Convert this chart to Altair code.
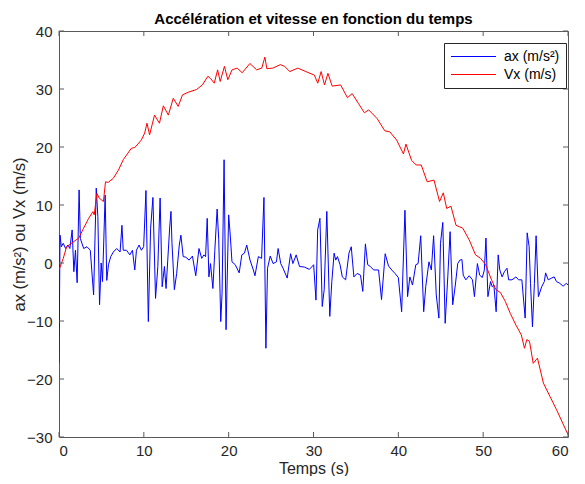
import altair as alt
import pandas as pd

# ---- data ----
ax_t = [0, 0.12, 0.27, 0.5, 0.78, 1.05, 1.28, 1.55, 1.75, 1.94, 2.14, 2.37, 2.52, 2.91, 3.3, 3.69,
        4.08, 4.39, 4.58, 4.78, 4.97, 5.13, 5.44, 5.63, 5.83, 6.1, 6.41, 6.8, 7.2, 7.42, 7.57, 7.96,
        8.35, 8.66, 8.93, 9.13, 9.44, 9.71, 9.98, 10.25, 10.53, 10.8, 11.07, 11.38, 11.65, 11.92,
        12.16, 12.43, 12.62, 12.82, 13.05, 13.2, 13.32, 13.6, 13.87, 14.18, 14.37, 14.64, 14.95,
        15.34, 15.73, 16.12, 16.5, 16.82, 17.09, 17.28, 17.47, 17.67, 17.86, 18.14, 18.37, 18.64,
        18.83, 19.07, 19.22, 19.46, 19.69, 20.0, 20.2, 20.39, 20.78, 21.24, 21.55, 21.86, 22.13,
        22.52, 22.91, 23.1, 23.5, 23.88, 24.16, 24.39, 24.58, 24.9, 25.24, 25.63, 25.83, 26.14,
        26.41, 26.9, 27.3, 27.57, 27.96, 28.35, 28.93, 29.51, 29.9, 30.02, 30.29, 30.49, 30.76,
        31.03, 31.26, 31.57, 31.92, 32.16, 32.43, 32.62, 32.82, 33.13, 33.4, 33.79, 34.18, 34.45,
        34.76, 35.15, 35.54, 35.81, 36.12, 36.39, 36.7, 37.09, 37.67, 38.02, 38.45, 38.84, 39.22,
        39.61, 40.0, 40.39, 40.78, 41.09, 41.36, 41.67, 42.06, 42.33, 42.64, 42.99, 43.23, 43.61,
        43.89, 44.16, 44.47, 44.78, 44.97, 45.24, 45.52, 45.83, 46.1, 46.41, 46.72, 47.0, 47.26,
        47.5, 47.65, 47.96, 48.35, 48.74, 48.97, 49.32, 49.59, 49.9, 50.14, 50.33, 50.56, 50.87,
        51.07, 51.26, 51.53, 51.77, 51.96, 52.23, 52.5, 52.81, 53.0, 53.4, 53.86, 54.17, 54.56,
        54.95, 55.19, 55.42, 55.58, 55.81, 56.04, 56.24, 56.51, 56.9, 57.21, 57.36, 57.67, 58.06,
        58.37, 58.64, 59.03, 59.42, 59.81, 60.0]
ax_v = [-17.3, 4.8, 2.8, 3.4, 2.5, 3.1, 2.5, 5.7, -1.5, 2.2, -3.4, 12.6, 4.2, 2.5, 2.8, 2.2,
        -5.5, 12.9, 8.0, -7.2, 0.0, -3.2, 11.7, -3.0, -0.3, 1.1, 1.9, 2.5, 1.9, 6.5, 2.2, 2.2,
        1.4, 2.2, -1.2, 2.2, 3.1, 2.2, 2.8, 12.5, -10.1, 6.0, 11.3, -6.1, -0.6, 11.2,
        -4.1, -0.6, -4.4, 0.5, 6.2, 8.9, 3.4, -4.6, -1.8, 3.1, 4.8, 1.1, 1.0,
        0.5, 1.2, -2.2, 2.5, 0.8, 1.4, 1.1, 7.7, -2.4, -0.1, -4.4, 2.2, 9.3,
        4.0, -10.1, -5.2, 17.8, -11.5, 8.3, 4.5, 0.2, -0.3, -1.7, 1.4, 1.7, 3.1,
        0.5, -1.2, -2.2, 1.1, 0.8, 11.3, -14.7, -0.9, 1.2, -0.1, 0.2, 2.5, -0.1,
        -0.9, -2.6, 1.6, -0.1, 1.4, -0.6, -0.7, -1.1, -0.5, -0.3, -6.4, 5.7, 7.7,
        -7.5, -4.6, 8.9, -9.2, -3.2, 1.7, 0.5, 1.1, -0.3, -2.4, -2.9, 1.7, 2.8,
        -2.4, -1.8, -2.1, -4.9, 3.3, -0.3, -0.6, -1.2, -1.2, -6.3, 1.6, -0.5, -1.2,
        -1.8, -2.5, -8.4, 9.1, -5.8, -2.4, -3.8, -0.3, -0.1, 4.7, -8.4, -4.1, 0.2,
        -1.2, 4.7, -5.5, -9.5, 3.4, 7.0, -10.4, -2.4, 5.4, -7.2, -3.8, -0.1, 0.5,
        0.6, -2.1, -2.9, -2.2, -2.9, -5.8, -0.1, -2.1, -2.5, -1.2, 4.3, -5.8, -3.2,
        -4.1, -3.8, -8.4, 1.4, -1.2, -2.4, -1.5, -0.9, -2.9, -2.9, -2.4, -2.9, -2.9,
        -9.5, 5.2, 2.8, -3.5, -11.0, -3.5, 4.7, -5.8, -4.1, -3.2, -1.7, -2.9, -2.6,
        -2.4, -3.2, -3.5, -4.0, -3.5, -3.8]

vx_t = [0, 0.5, 0.9, 1.75, 2.33, 2.9, 3.5, 4.0, 4.15, 4.47, 4.74, 5.24, 5.48, 5.8, 6.4, 7.0,
        7.57, 8.54, 8.93, 9.71, 10.1, 10.37, 10.68, 11.26, 11.84, 12.3, 12.89, 13.47, 14.05,
        14.56, 15.34, 16.2, 16.9, 17.55, 17.87, 18.3, 18.7, 19.0, 19.5, 19.9, 20.4, 21.0, 21.6,
        22.5, 23.3, 23.9, 24.27, 24.5, 25.2, 26.1, 26.6, 27.2, 28.15, 29.1, 30.1, 30.5, 30.9,
        31.3, 31.7, 32.2, 33.2, 34.0, 34.56, 35.3, 36.0, 36.5, 37.5, 38.4, 39.0, 39.8, 40.6,
        40.9, 41.56, 42.1, 42.7, 43.4, 44.2, 44.86, 45.3, 45.7, 46.2, 46.8, 47.6, 48.35, 49.1,
        49.7, 50.3, 50.9, 51.5, 52.04, 52.6, 53.2, 53.86, 54.5, 54.87, 55.15, 55.46, 55.9,
        56.4, 57.1, 57.87, 58.65, 60.0]
vx_v = [-1.2, 0.8, 2.8, 3.7, 4.3, 6.0, 7.7, 8.85, 8.3, 12.0, 11.2, 10.6, 14.0, 13.9, 14.6, 16.0,
        17.8, 19.8, 19.9, 21.2, 22.4, 24.1, 22.1, 25.5, 24.1, 27.1, 25.5, 28.4, 27.0,
        29.0, 29.5, 29.9, 30.7, 32.2, 31.8, 31.0, 33.3, 31.3, 33.9, 31.6, 33.3, 33.6, 32.8,
        34.4, 33.3, 33.6, 35.5, 33.5, 33.6, 34.2, 33.9, 33.0, 33.6, 33.0, 32.4, 31.0, 33.0,
        30.7, 32.7, 30.5, 30.7, 28.5, 29.2, 27.5, 25.9, 26.4, 24.9, 22.8, 22.6, 21.2, 18.8,
        20.5, 17.7, 16.9, 16.9, 14.0, 14.3, 10.6, 12.1, 9.4, 9.8, 6.5, 6.0, 4.0, 1.4,
        0.8, -0.3, -2.6, -4.6, -5.1, -6.6, -8.7, -10.7, -12.4, -14.7, -13.2, -13.5, -17.3,
        -16.4, -20.7, -23.0, -25.3, -29.6]

series_names = ["ax (m/s²)", "Vx (m/s)"]
series_colors = ["#0000ff", "#ff0000"]
x_ticks = [0, 10, 20, 30, 40, 50, 60]
y_ticks = [-30, -20, -10, 0, 10, 20, 30, 40]

W, H = 509, 406
TICK = 5
FONT = "Liberation Sans"
AX_COL = "#262626"
BOX_COL = "#5a5a5a"

df = pd.concat([
    pd.DataFrame({"t": ax_t, "v": ax_v, "serie": series_names[0]}),
    pd.DataFrame({"t": vx_t, "v": vx_v, "serie": series_names[1]}),
], ignore_index=True)

xs = alt.Scale(domain=[0, 60], nice=False, zero=False)
ys = alt.Scale(domain=[-30, 40], nice=False, zero=False)

x_axis = alt.Axis(values=x_ticks, title="Temps (s)", labelPadding=6,
                  titleBaseline="alphabetic", titleY=36, titleFontSize=16)
y_axis = alt.Axis(values=y_ticks, title="ax (m/s²) ou Vx (m/s)", labelPadding=7, titlePadding=-1)

X = alt.X("t:Q", scale=xs, axis=x_axis)
Y = alt.Y("v:Q", scale=ys, axis=y_axis)

lines = alt.Chart(df).mark_line(strokeWidth=1, clip=True).encode(
    x=X,
    y=Y,
    color=alt.Color(
        "serie:N",
        scale=alt.Scale(domain=series_names, range=series_colors),
        legend=alt.Legend(
            title=None, orient="none", legendX=385, legendY=12,
            symbolType="stroke", symbolSize=2025, symbolStrokeWidth=1.2,
            symbolOpacity=1,
            labelFont=FONT, labelFontSize=14, labelColor="#000000",
            strokeColor=AX_COL, fillColor="#ffffff", padding=6,
            rowPadding=3, labelOffset=7,
        ),
    ),
    detail="serie:N",
)

xt = pd.DataFrame({"t": x_ticks})
yt = pd.DataFrame({"v": y_ticks})

tick_bottom = alt.Chart(xt).mark_rule(color=BOX_COL, strokeWidth=1).encode(
    x=X, y=alt.value(H), y2=alt.value(H - TICK))
tick_top = alt.Chart(xt).mark_rule(color=BOX_COL, strokeWidth=1).encode(
    x=X, y=alt.value(0), y2=alt.value(TICK))
tick_left = alt.Chart(yt).mark_rule(color=BOX_COL, strokeWidth=1).encode(
    y=Y, x=alt.value(0), x2=alt.value(TICK))
tick_right = alt.Chart(yt).mark_rule(color=BOX_COL, strokeWidth=1).encode(
    y=Y, x=alt.value(W), x2=alt.value(W - TICK))

chart = alt.layer(lines, tick_bottom, tick_top, tick_left, tick_right).properties(
    width=W, height=H,
    background="#ffffff",
    title=alt.TitleParams(
        "Accélération et vitesse en fonction du temps",
        font=FONT, fontSize=15, fontWeight="bold", color="#000000",
        anchor="middle", offset=-3,
    ),
    autosize=alt.AutoSizeParams(type="none"),
    padding={"left": 51, "top": 23, "right": 9, "bottom": 39},
).configure_view(
    stroke=BOX_COL, strokeWidth=1, fill="#ffffff"
).configure_axis(
    labelFont=FONT, labelFontSize=15, labelColor=AX_COL,
    titleFont=FONT, titleFontSize=16.5, titleColor=AX_COL, titleFontWeight="normal",
    ticks=False, domain=False, grid=False,
).configure_legend(
    clipHeight=15
)

chart.save("out.html", embed_options={"renderer": "svg", "actions": False})
